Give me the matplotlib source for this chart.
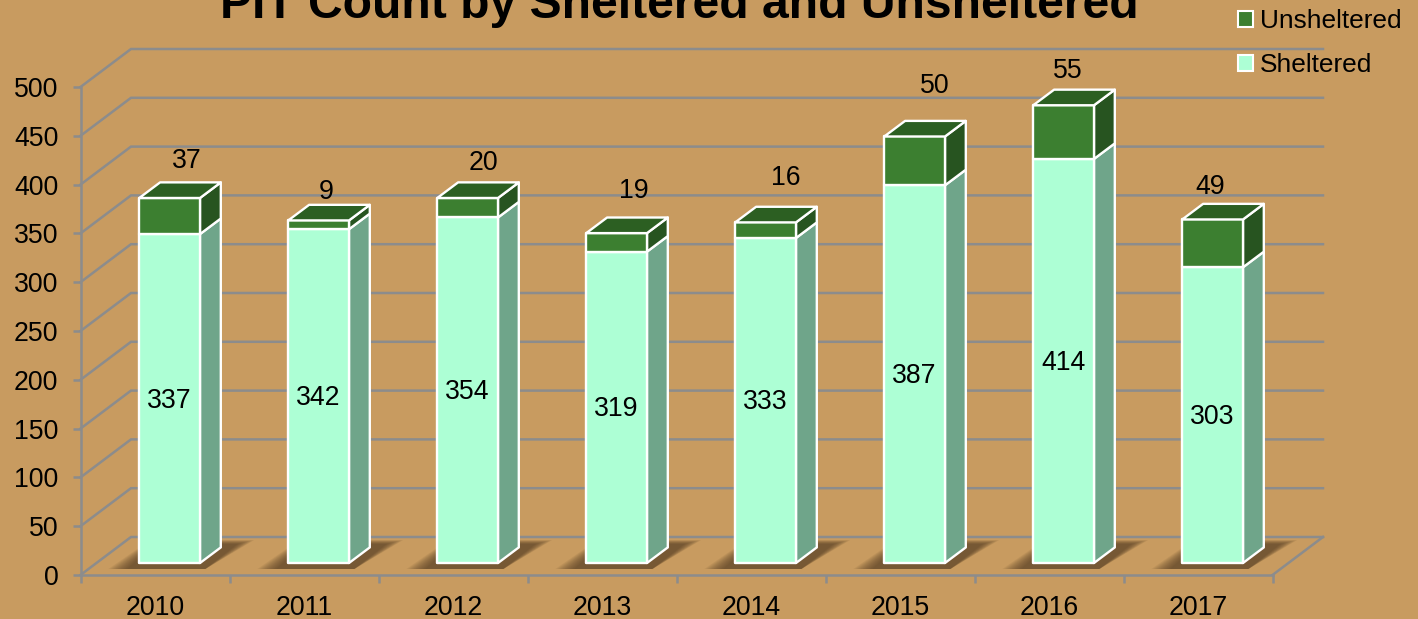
import matplotlib
matplotlib.use("Agg")
import matplotlib.pyplot as plt
from matplotlib.patches import Polygon, Patch

plt.rcParams['font.family'] = ['Liberation Sans', 'DejaVu Sans']

years = ['2010', '2011', '2012', '2013', '2014', '2015', '2016', '2017']
sheltered = [337, 342, 354, 319, 333, 387, 414, 303]
unsheltered = [37, 9, 20, 19, 16, 50, 55, 49]
y_ticks = list(range(0, 501, 50))

# hand-placed data-label nudges, in pixels, relative to the bar top / centre
top_label_lift = [37, 28, 35, 42, 44, 50, 34, 32]
top_label_dx = [17, 8, 16, 17, 20, 20, 4, -2]

BG = '#C89B60'
GRID = '#8C8C8C'
LIGHT, LIGHT_SIDE = '#ADFFD5', '#6FA58A'
DARK, DARK_TOP, DARK_SIDE = '#3C7F30', '#2C5F22', '#275420'
FS = 19.2

W, H = 1418, 619
fig = plt.figure(figsize=(W / 100, H / 100), dpi=100, facecolor=BG)
L, R, B, T = 80.5, 1272.5, 575, 87
ax = fig.add_axes([L / W, 1 - B / H, (R - L) / W, (B - T) / H], facecolor='none')
ax.set_xlim(0, 8)
ax.set_ylim(0, 500)
PX = (R - L) / 8
PY = (B - T) / 500


def px(x, y, dx, dy):
    """Data point shifted by a pixel offset (dy positive = upward)."""
    return (x + dx / PX, y + dy / PY)


def poly(pts, **kw):
    kw.setdefault('clip_on', False)
    ax.add_patch(Polygon(pts, closed=True, **kw))


# walls and floor
DX, DY = 50.5, 38
for v in y_ticks:
    xs, ys = zip(px(0, v, 0, 0), px(0, v, DX, DY), px(8, v, DX, DY))
    ax.plot(xs, ys, color=GRID, lw=1.8, clip_on=False, zorder=1, solid_joinstyle='miter')
xs, ys = zip(px(8, 0, 0, 0), px(8, 0, DX, DY))
ax.plot(xs, ys, color=GRID, lw=1.8, clip_on=False, zorder=1)

# axes
for s in ('top', 'right'):
    ax.spines[s].set_visible(False)
for s in ('left', 'bottom'):
    ax.spines[s].set_color(GRID)
    ax.spines[s].set_linewidth(1.8)
ax.set_yticks(y_ticks)
ax.set_xticks(range(9))
ax.set_xticklabels([])
ax.set_xticks([i + 0.5 for i in range(8)], minor=True)
ax.set_xticklabels(years, minor=True)
ax.tick_params(axis='y', colors=GRID, length=6, width=1.8, pad=10, labelsize=FS, labelcolor='black')
ax.tick_params(axis='x', which='major', colors=GRID, length=6, width=1.8)
ax.tick_params(axis='x', which='minor', length=0, pad=14.5, labelsize=FS, labelcolor='black')

# bars
BX, BW, BASE = 58.8, 60.7, 12
SDX, SDY = 20.8, 15.6
edge = dict(edgecolor='white', linewidth=1.7, joinstyle='round', zorder=4)

for i, (s, u) in enumerate(zip(sheltered, unsheltered)):
    # soft floor shadow
    outer = [(-31, -6), (66, -6), (115, 23), (11, 23)]
    inner = [(-12, -6), (66, -6), (98, 19), (16, 19)]
    n = 12
    for k in range(n):
        t = k / (n - 1)
        pts = [px(i, 0, BX + o[0] + (q[0] - o[0]) * t, BASE + o[1] + (q[1] - o[1]) * t)
               for o, q in zip(outer, inner)]
        poly(pts, facecolor='#4A3520', edgecolor='none', alpha=0.08, zorder=2)

    def face(lo, hi, dx0=BX):
        return [px(i, lo, dx0, BASE), px(i, lo, dx0 + BW, BASE),
                px(i, hi, dx0 + BW, BASE), px(i, hi, dx0, BASE)]

    def side(lo, hi):
        x0 = BX + BW
        return [px(i, lo, x0, BASE), px(i, lo, x0 + SDX, BASE + SDY),
                px(i, hi, x0 + SDX, BASE + SDY), px(i, hi, x0, BASE)]

    top = s + u
    poly(side(0, s), facecolor=LIGHT_SIDE, **edge)
    poly(side(s, top), facecolor=DARK_SIDE, **edge)
    poly(face(0, s), facecolor=LIGHT, **edge)
    poly(face(s, top), facecolor=DARK, **edge)
    poly([px(i, top, BX, BASE), px(i, top, BX + BW, BASE),
          px(i, top, BX + BW + SDX, BASE + SDY), px(i, top, BX + SDX, BASE + SDY)],
         facecolor=DARK_TOP, **edge)

    cx, cy = px(i, s / 2, BX + BW / 2, BASE - 2)
    ax.text(cx, cy, str(s), ha='center', va='center', fontsize=FS, color='black', zorder=6)
    tx, ty = px(i, top, BX + BW / 2 + top_label_dx[i], BASE + top_label_lift[i])
    ax.text(tx, ty, str(u), ha='center', va='center', fontsize=FS, color='black', zorder=6)

# title, clipped by the top of the picture as in the source
fig.text(679 / W, 1 - 18 / H, 'PIT Count by Sheltered and Unsheltered',
         ha='center', va='baseline', fontsize=34.6, fontweight='bold', color='black')

# legend
handles = [Patch(facecolor=DARK, edgecolor='white', linewidth=1.5, label='Unsheltered'),
           Patch(facecolor=LIGHT, edgecolor='white', linewidth=1.5, label='Sheltered')]
fig.legend(handles=handles, loc='upper left', bbox_to_anchor=(1238 / W, 1 - 9 / H),
           bbox_transform=fig.transFigure, frameon=False, fontsize=18.9,
           handlelength=0.58, handleheight=0.58, handletextpad=0.27,
           labelspacing=0.78, borderpad=0, borderaxespad=0)

fig.savefig('out.png', dpi=100, facecolor=BG)
